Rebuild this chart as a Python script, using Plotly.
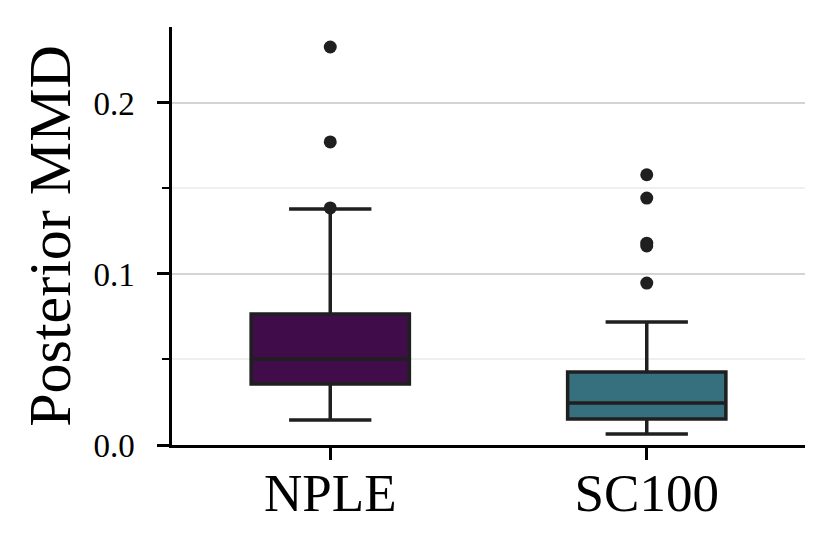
import plotly.graph_objs as go

methods = ["NPLE", "SC100"]
q1 = [0.0357, 0.0152]
median = [0.0503, 0.0246]
q3 = [0.0766, 0.0427]
lower = [0.0146, 0.0064]
upper = [0.138, 0.0719]
colors = ["#400d4a", "#36707e"]

outlier_x = ["NPLE", "NPLE", "NPLE", "SC100", "SC100", "SC100", "SC100", "SC100"]
outlier_y = [0.2327, 0.1772, 0.1386, 0.158, 0.1444, 0.118, 0.1164, 0.0947]

ink = "#1f1f1f"
font = "Liberation Serif"

fig = go.Figure()

for i, m in enumerate(methods):
    fig.add_trace(
        go.Box(
            x=[m],
            q1=[q1[i]],
            median=[median[i]],
            q3=[q3[i]],
            lowerfence=[lower[i]],
            upperfence=[upper[i]],
            fillcolor=colors[i],
            line=dict(color=ink, width=3.5),
            width=0.5,
            whiskerwidth=0.52,
            boxpoints=False,
            hoverinfo="skip",
        )
    )

fig.add_trace(
    go.Scatter(
        x=outlier_x,
        y=outlier_y,
        mode="markers",
        marker=dict(color=ink, size=13),
    )
)

fig.update_layout(
    width=830,
    height=547,
    margin=dict(l=164, r=33, t=19, b=110),
    plot_bgcolor="white",
    paper_bgcolor="white",
    showlegend=False,
    font=dict(family=font, color="black"),
    xaxis=dict(
        range=[-0.5, 1.5],
        showline=True,
        linecolor="black",
        linewidth=2.5,
        ticks="outside",
        ticklen=12,
        tickwidth=2.5,
        tickcolor="black",
        tickfont=dict(size=53),
        ticklabelstandoff=-12,
        showgrid=False,
        automargin=False,
    ),
    yaxis=dict(
        title=dict(text="Posterior MMD", font=dict(size=60), standoff=4),
        range=[0, 0.2444],
        dtick=0.1,
        tickformat=".1f",
        showline=True,
        linecolor="black",
        linewidth=2.5,
        ticks="outside",
        ticklen=12,
        tickwidth=2.5,
        tickcolor="black",
        tickfont=dict(size=33),
        ticklabelstandoff=16,
        showgrid=True,
        gridcolor="#d4d4d4",
        gridwidth=2,
        zeroline=False,
        automargin=True,
        minor=dict(
            dtick=0.05,
            ticks="outside",
            ticklen=7,
            tickwidth=2,
            tickcolor="black",
            showgrid=True,
            gridcolor="#efefef",
            gridwidth=2,
        ),
    ),
)

fig.write_html("out.html")
